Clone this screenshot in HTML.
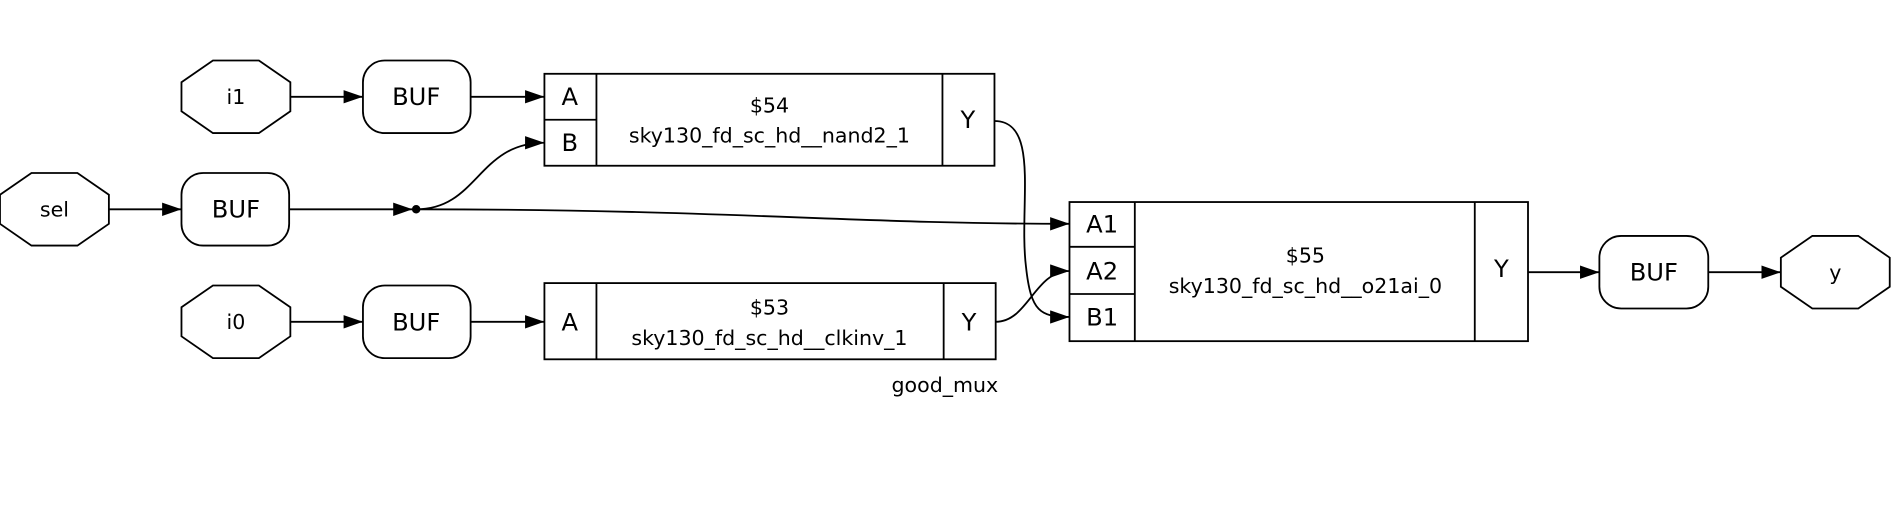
<!DOCTYPE html>
<html><head><meta charset="utf-8"><style>html,body{margin:0;padding:0;background:#fff;}svg{display:block}</style></head>
<body>
<svg width="1897" height="519" viewBox="0 0 1568 429" preserveAspectRatio="none" xmlns="http://www.w3.org/2000/svg" font-family="DejaVu Sans, Liberation Sans, sans-serif">
<defs>
<marker id="a" markerWidth="16" markerHeight="11" refX="16" refY="5.5" orient="auto" markerUnits="userSpaceOnUse"><path d="M0,0 L16,5.5 L0,11 z" fill="#000"/></marker></defs>
<g fill="none" stroke="#000" stroke-width="1.5">
<polygon points="176,50 214,50 240,68 240,92 214,110 176,110 150,92 150,68"/>
<polygon points="26,143 64,143 90,161 90,185 64,203 26,203 0,185 0,161"/>
<polygon points="176,236 214,236 240,254 240,278 214,296 176,296 150,278 150,254"/>
<polygon points="1498,195 1536,195 1562,213 1562,237 1536,255 1498,255 1472,237 1472,213"/>
<rect x="300" y="50" width="89" height="60" rx="18"/>
<rect x="150" y="143" width="89" height="60" rx="18"/>
<rect x="300" y="236" width="89" height="60" rx="18"/>
<rect x="1322" y="195" width="90" height="60" rx="18"/>
<rect x="450" y="61" width="372" height="76"/>
<line x1="493" y1="61" x2="493" y2="137"/><line x1="450" y1="99" x2="493" y2="99"/><line x1="779" y1="61" x2="779" y2="137"/>
<rect x="450" y="234" width="373" height="63"/>
<line x1="493" y1="234" x2="493" y2="297"/><line x1="780" y1="234" x2="780" y2="297"/>
<rect x="884" y="167" width="379" height="115"/>
<line x1="938" y1="167" x2="938" y2="282"/><line x1="884" y1="204" x2="938" y2="204"/><line x1="884" y1="243" x2="938" y2="243"/><line x1="1219" y1="167" x2="1219" y2="282"/>
<line x1="240" y1="80" x2="300" y2="80" marker-end="url(#a)"/>
<line x1="389" y1="80" x2="450" y2="80" marker-end="url(#a)"/>
<line x1="90" y1="173" x2="150" y2="173" marker-end="url(#a)"/>
<line x1="239" y1="173" x2="341" y2="173" marker-end="url(#a)"/>
<path d="M344,173 C395,173 395,118 450,118" marker-end="url(#a)"/>
<path d="M344,173 C600,173 700,185 884,185" marker-end="url(#a)"/>
<path d="M822,100 C860,100 842,170 848,220 C852,258 860,262 884,262" marker-end="url(#a)"/>
<line x1="240" y1="266" x2="300" y2="266" marker-end="url(#a)"/>
<line x1="389" y1="266" x2="450" y2="266" marker-end="url(#a)"/>
<path d="M823,266 C850,266 855,224 884,224" marker-end="url(#a)"/>
<line x1="1263" y1="225" x2="1322" y2="225" marker-end="url(#a)"/>
<line x1="1412" y1="225" x2="1472" y2="225" marker-end="url(#a)"/>
</g>
<circle cx="344" cy="173" r="3.5" fill="#000"/>
<g fill="#000" text-anchor="middle" font-size="17">
<text x="195" y="86">i1</text>
<text x="45" y="179">sel</text>
<text x="195" y="272">i0</text>
<text x="1517" y="231">y</text>
<text x="344" y="87" font-size="20">BUF</text>
<text x="195" y="180" font-size="20">BUF</text>
<text x="344" y="273" font-size="20">BUF</text>
<text x="1367" y="232" font-size="20">BUF</text>
<text x="471" y="87" font-size="20">A</text>
<text x="471" y="125" font-size="20">B</text>
<text x="800" y="106" font-size="20">Y</text>
<text x="636" y="93">$54</text>
<text x="636" y="118">sky130_fd_sc_hd__nand2_1</text>
<text x="471" y="273" font-size="20">A</text>
<text x="801" y="273" font-size="20">Y</text>
<text x="636" y="260">$53</text>
<text x="636" y="285">sky130_fd_sc_hd__clkinv_1</text>
<text x="911" y="192" font-size="20">A1</text>
<text x="911" y="231" font-size="20">A2</text>
<text x="911" y="269" font-size="20">B1</text>
<text x="1079" y="217">$55</text>
<text x="1079" y="242">sky130_fd_sc_hd__o21ai_0</text>
<text x="1241" y="229" font-size="20">Y</text>
<text x="781" y="324">good_mux</text>
</g>
</svg>
</body></html>
